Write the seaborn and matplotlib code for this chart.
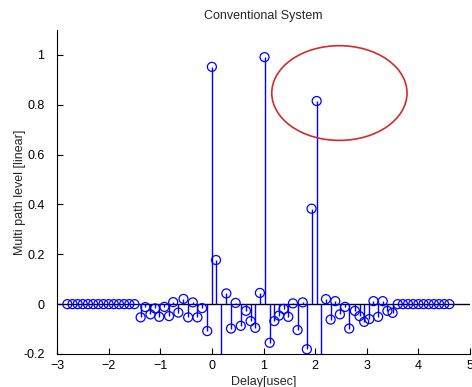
import numpy as np
import matplotlib
matplotlib.use("Agg")
import matplotlib.pyplot as plt
from matplotlib.patches import Ellipse
import seaborn as sns

# delays [usec] and levels
left_zero_x = [-2.8, -2.7, -2.6, -2.5, -2.4, -2.3, -2.2, -2.1, -2.0, -1.9, -1.8, -1.7, -1.6, -1.5]
right_zero_x = [3.6, 3.7, 3.8, 3.9, 4.0, 4.1, 4.2, 4.3, 4.4, 4.5, 4.6]

path_x = [-1.38, -1.29, -1.19, -1.10, -1.02, -0.92, -0.83, -0.75, -0.65, -0.55,
          -0.46, -0.37, -0.28, -0.19, -0.09, 0.00, 0.08, 0.18, 0.28, 0.37,
          0.46, 0.56, 0.66, 0.75, 0.84, 0.93, 1.02, 1.12, 1.21, 1.30,
          1.39, 1.48, 1.57, 1.66, 1.76, 1.84, 1.93, 2.03, 2.12, 2.21,
          2.30, 2.39, 2.48, 2.58, 2.66, 2.77, 2.86, 2.95, 3.05, 3.13,
          3.22, 3.31, 3.40, 3.50]
path_y = [-0.053, -0.012, -0.041, -0.017, -0.051, -0.011, -0.048, 0.008, -0.034, 0.021,
          -0.053, 0.007, -0.053, -0.016, -0.108, 0.952, 0.177, -0.30, 0.043, -0.098,
          0.005, -0.087, -0.027, -0.068, -0.095, 0.045, 0.991, -0.155, -0.068, -0.046,
          -0.019, -0.051, 0.003, -0.104, 0.007, -0.181, 0.383, 0.815, -0.30, 0.020,
          -0.062, 0.012, -0.041, -0.011, -0.098, -0.027, -0.048, -0.071, -0.060, 0.012,
          -0.051, 0.012, -0.027, -0.035]

x_ticks = [-3, -2, -1, 0, 1, 2, 3, 4, 5]
y_ticks = [-0.2, 0, 0.2, 0.4, 0.6, 0.8, 1]
y_tick_labels = ["-0.2", "0", "0.2", "0.4", "0.6", "0.8", "1"]

x = np.array(left_zero_x + path_x + right_zero_x)
y = np.array([0.0] * len(left_zero_x) + path_y + [0.0] * len(right_zero_x))

sns.set_style("ticks", {"xtick.direction": "in", "ytick.direction": "in"})
plt.rcParams["font.family"] = ["Liberation Sans", "DejaVu Sans"]
plt.rcParams["font.size"] = 9

fig = plt.figure(figsize=(4.72, 3.87), dpi=100)
ax = fig.add_axes([0.1208, 0.0853, 0.875, 0.8372])

ax.axhline(0, color="black", lw=1, zorder=1)
ax.vlines(x, 0, y, color="blue", lw=1, zorder=2)
sns.scatterplot(x=x, y=y, marker="o", s=42, facecolor="none", edgecolor="blue",
                linewidth=0.9, zorder=3, ax=ax)

# red circle marking the delayed path
ax.add_patch(Ellipse((2.47, 0.847), 2.62, 0.38, fill=False, ec="#d42a2a", lw=1.2, zorder=4))

ax.set_xlim(-3, 5)
ax.set_ylim(-0.2, 1.1)
ax.set_xticks(x_ticks)
ax.set_yticks(y_ticks)
ax.set_yticklabels(y_tick_labels)
ax.tick_params(length=4, width=0.8, colors="black", labelsize=9, pad=4)
ax.tick_params(axis="y", pad=9)
for s in ["left", "bottom"]:
    ax.spines[s].set_color("black")
    ax.spines[s].set_linewidth(0.8)
sns.despine(ax=ax)

ax.set_title("Conventional System", fontsize=9, pad=8)
ax.set_xlabel("Delay[usec]", labelpad=3)
ax.set_ylabel("Multi path level [linear]", labelpad=-2)

fig.savefig("out.png", dpi=100)
